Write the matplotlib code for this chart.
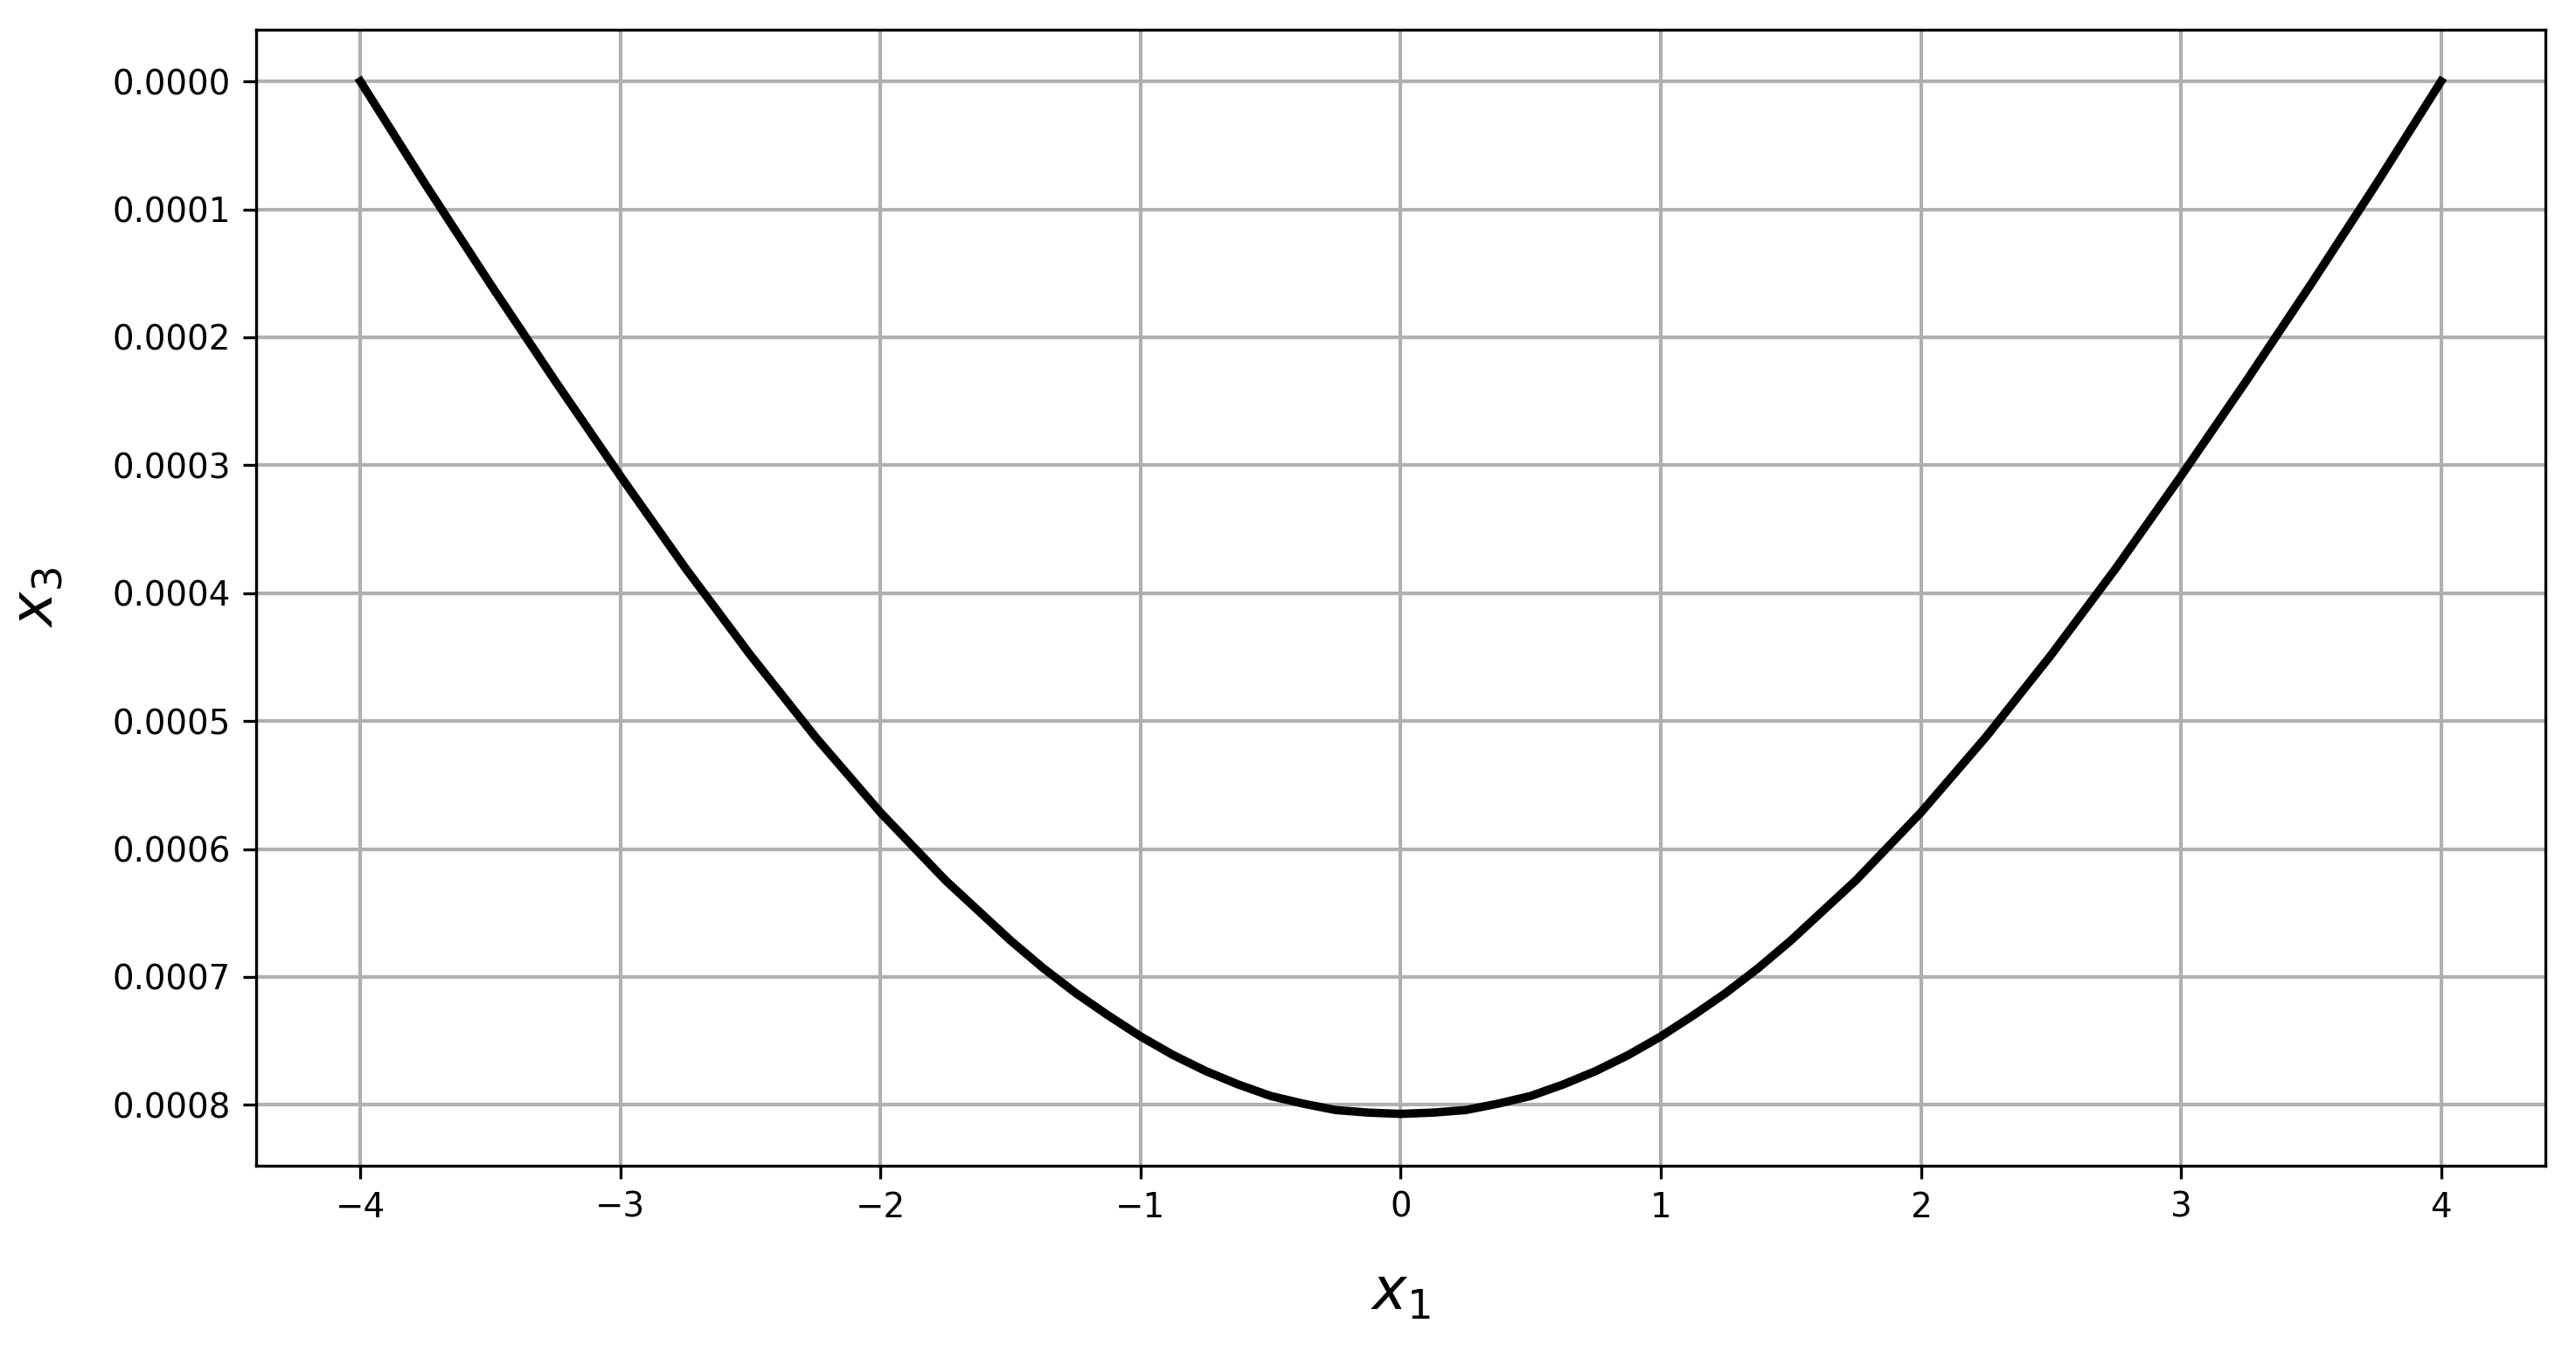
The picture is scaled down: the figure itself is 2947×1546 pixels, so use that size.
import matplotlib
matplotlib.use("Agg")
import matplotlib.pyplot as plt

# Values (y axis is inverted: 0 at top)
x1_values = [-4.0, -3.75, -3.5, -3.25, -3.0, -2.75, -2.5, -2.25, -2.0, -1.75,
             -1.5, -1.375, -1.25, -1.125, -1.0, -0.875, -0.75, -0.625, -0.5,
             -0.375, -0.25, -0.125, 0.0, 0.125, 0.25, 0.375, 0.5, 0.625, 0.75,
             0.875, 1.0, 1.125, 1.25, 1.375, 1.5, 1.75, 2.0, 2.25, 2.5, 2.75,
             3.0, 3.25, 3.5, 3.75, 4.0]
x3_values = [0.0, 0.0000805, 0.0001585, 0.0002345, 0.0003085, 0.0003805,
             0.0004485, 0.0005125, 0.0005715, 0.0006245, 0.0006715, 0.000693,
             0.0007125, 0.000730, 0.0007465, 0.000761, 0.0007735, 0.000784,
             0.000793, 0.000799, 0.000804, 0.000806, 0.000807, 0.000806,
             0.000804, 0.000799, 0.000793, 0.000784, 0.0007735, 0.000761,
             0.0007465, 0.000730, 0.0007125, 0.000693, 0.0006715, 0.0006245,
             0.0005715, 0.0005125, 0.0004485, 0.0003805, 0.0003085, 0.0002345,
             0.0001585, 0.0000805, 0.0]

DPI = 300
fig = plt.figure(figsize=(2947 / DPI, 1546 / DPI), dpi=DPI)
ax = fig.add_axes([0.0995, 0.1373, 0.988 - 0.0995, 0.978 - 0.1373])

ax.plot(x1_values, x3_values, color="black", linewidth=2.3)
ax.invert_yaxis()
ax.grid(True, linewidth=1.0)
ax.tick_params(labelsize=9.3)
ax.set_xlabel("$x_1$", fontsize=16, labelpad=11)
ax.set_ylabel("$x_3$", fontsize=16, labelpad=13)

fig.savefig("out.png", dpi=DPI)
